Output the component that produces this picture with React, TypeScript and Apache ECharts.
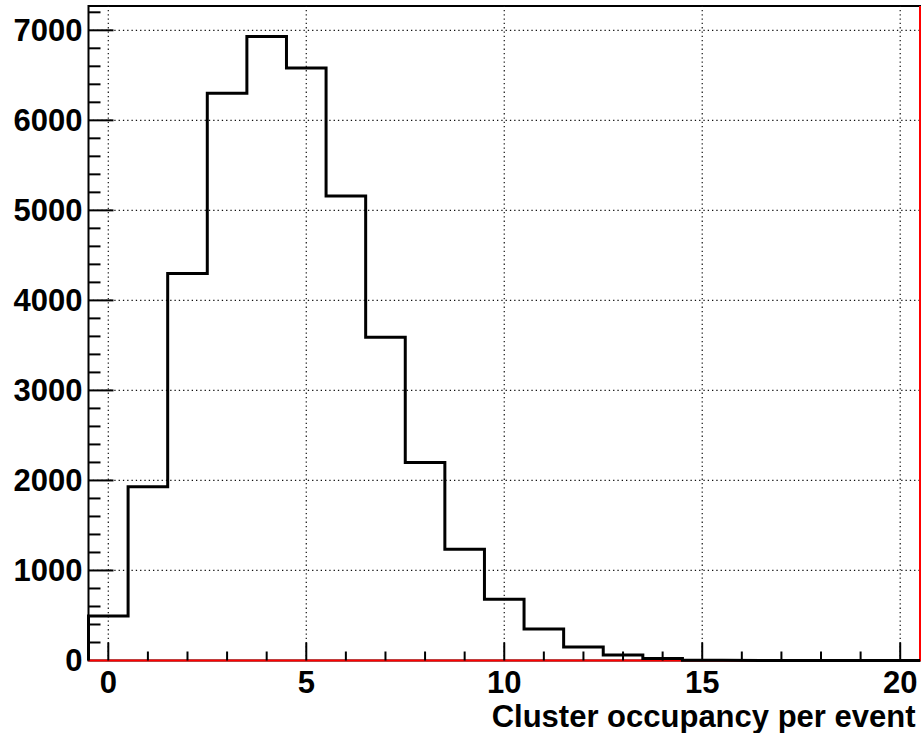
import React, { useEffect, useRef } from "react";
import * as echarts from "echarts";

// ---- data ----
const binCenters = [0, 1, 2, 3, 4, 5, 6, 7, 8, 9, 10, 11, 12, 13, 14, 15, 16, 17, 18, 19, 20];
const counts = [495, 1930, 4300, 6300, 6930, 6580, 5160, 3590, 2200, 1235, 680, 350, 150, 60, 22, 4, 1, 0, 0, 0, 0];

const xLabelValues = [0, 5, 10, 15, 20];
const yLabelValues = [0, 1000, 2000, 3000, 4000, 5000, 6000, 7000];
const xMinorTickValues = [1, 2, 3, 4, 6, 7, 8, 9, 11, 12, 13, 14, 16, 17, 18, 19];
const yMinorTickValues = [200, 400, 600, 800, 1200, 1400, 1600, 1800, 2200, 2400, 2600, 2800, 3200, 3400, 3600, 3800, 4200, 4400, 4600, 4800, 5200, 5400, 5600, 5800, 6200, 6400, 6600, 6800, 7200];

const X_MIN = -0.5;
const X_MAX = 20.5;
const Y_MIN = 0;
const Y_MAX = 7270;
const X_TITLE = "Cluster occupancy per event";

const FONT = "'Liberation Sans', Arial, Helvetica, sans-serif";

export default function App() {
  const ref = useRef<HTMLDivElement>(null);

  useEffect(() => {
    if (!ref.current) return;
    const chart = echarts.init(ref.current, undefined, { renderer: "svg" });

    const histData: number[][] = [[X_MIN, 0]];
    binCenters.forEach((c, i) => histData.push([c - 0.5, counts[i]]));
    histData.push([X_MAX, counts[counts.length - 1]]);

    const xTickData = [
      ...xLabelValues.map((v) => [v, Y_MIN, 1]),
      ...xMinorTickValues.map((v) => [v, Y_MIN, 0]),
    ];
    const yTickData = [
      ...yLabelValues.filter((v) => v > 0).map((v) => [X_MIN, v, 1]),
      ...yMinorTickValues.map((v) => [X_MIN, v, 0]),
    ];

    const dotted = { stroke: "#111", lineWidth: 1.2, lineDash: [1.3, 3] };

    chart.setOption({
      animation: false,
      backgroundColor: "#fff",
      grid: {
        left: 88.5,
        right: 1.5,
        top: 6,
        bottom: 72.5,
        show: true,
        borderColor: "#000",
        borderWidth: 2,
        backgroundColor: "transparent",
      },
      xAxis: {
        type: "value",
        min: X_MIN,
        max: X_MAX,
        splitNumber: 4,
        axisLine: { show: false },
        axisTick: { show: false },
        splitLine: { show: false },
        axisLabel: {
          color: "#000",
          fontFamily: FONT,
          fontWeight: "bold",
          fontSize: 31,
          margin: 6,
          formatter: (v: number) => (xLabelValues.includes(v) ? String(v) : ""),
        },
        name: X_TITLE,
        nameLocation: "end",
        nameGap: -4.5,
        nameTextStyle: {
          color: "#000",
          fontFamily: FONT,
          fontWeight: "bold",
          fontSize: 31,
          align: "right",
          verticalAlign: "top",
          padding: [40, 0, 0, 0],
        },
      },
      yAxis: {
        type: "value",
        min: Y_MIN,
        max: Y_MAX,
        splitNumber: 7,
        axisLine: { show: false },
        axisTick: { show: false },
        splitLine: { show: false },
        axisLabel: {
          color: "#000",
          fontFamily: FONT,
          fontWeight: "bold",
          fontSize: 31,
          margin: 6,
          padding: [4, 0, 0, 0],
          formatter: (v: number) => (yLabelValues.includes(v) ? String(v) : ""),
        },
      },
      series: [
        {
          type: "custom",
          name: "xgrid",
          z: 1,
          silent: true,
          data: xLabelValues.map((v) => [v, Y_MIN]),
          encode: { x: 0, y: 1 },
          renderItem: (_p: any, api: any) => {
            const a = api.coord([api.value(0), Y_MIN]);
            const b = api.coord([api.value(0), Y_MAX]);
            return { type: "line", shape: { x1: a[0], y1: a[1], x2: b[0], y2: b[1] }, style: dotted };
          },
        },
        {
          type: "custom",
          name: "ygrid",
          z: 1,
          silent: true,
          data: yLabelValues.filter((v) => v > 0).map((v) => [X_MIN, v]),
          encode: { x: 0, y: 1 },
          renderItem: (_p: any, api: any) => {
            const a = api.coord([X_MIN, api.value(1)]);
            const b = api.coord([X_MAX, api.value(1)]);
            return { type: "line", shape: { x1: a[0], y1: a[1], x2: b[0], y2: b[1] }, style: dotted };
          },
        },
        {
          type: "line",
          name: "red",
          z: 2,
          clip: false,
          silent: true,
          symbol: "none",
          data: [[X_MIN, Y_MIN], [X_MAX, Y_MIN], [X_MAX, Y_MAX]],
          lineStyle: { color: "#ff0000", width: 2 },
        },
        {
          type: "line",
          name: "hist",
          z: 3,
          clip: false,
          silent: true,
          symbol: "none",
          step: "end",
          data: histData,
          lineStyle: { color: "#000", width: 3, join: "miter" },
        },
        {
          type: "custom",
          name: "xticks",
          z: 4,
          silent: true,
          data: xTickData,
          encode: { x: 0, y: 1 },
          renderItem: (_p: any, api: any) => {
            const a = api.coord([api.value(0), Y_MIN]);
            const len = api.value(2) ? 18 : 9;
            return {
              type: "line",
              shape: { x1: a[0], y1: a[1], x2: a[0], y2: a[1] - len },
              style: { stroke: "#000", lineWidth: 2 },
            };
          },
        },
        {
          type: "custom",
          name: "yticks",
          z: 4,
          silent: true,
          data: yTickData,
          encode: { x: 0, y: 1 },
          renderItem: (_p: any, api: any) => {
            const a = api.coord([X_MIN, api.value(1)]);
            const len = api.value(2) ? 25 : 12;
            return {
              type: "line",
              shape: { x1: a[0], y1: a[1], x2: a[0] + len, y2: a[1] },
              style: { stroke: "#000", lineWidth: 2 },
            };
          },
        },
      ],
    });

    return () => chart.dispose();
  }, []);

  return (
    <div
      ref={ref}
      style={{ position: "absolute", left: 0, top: 0, width: 923, height: 733, background: "#fff" }}
    />
  );
}
